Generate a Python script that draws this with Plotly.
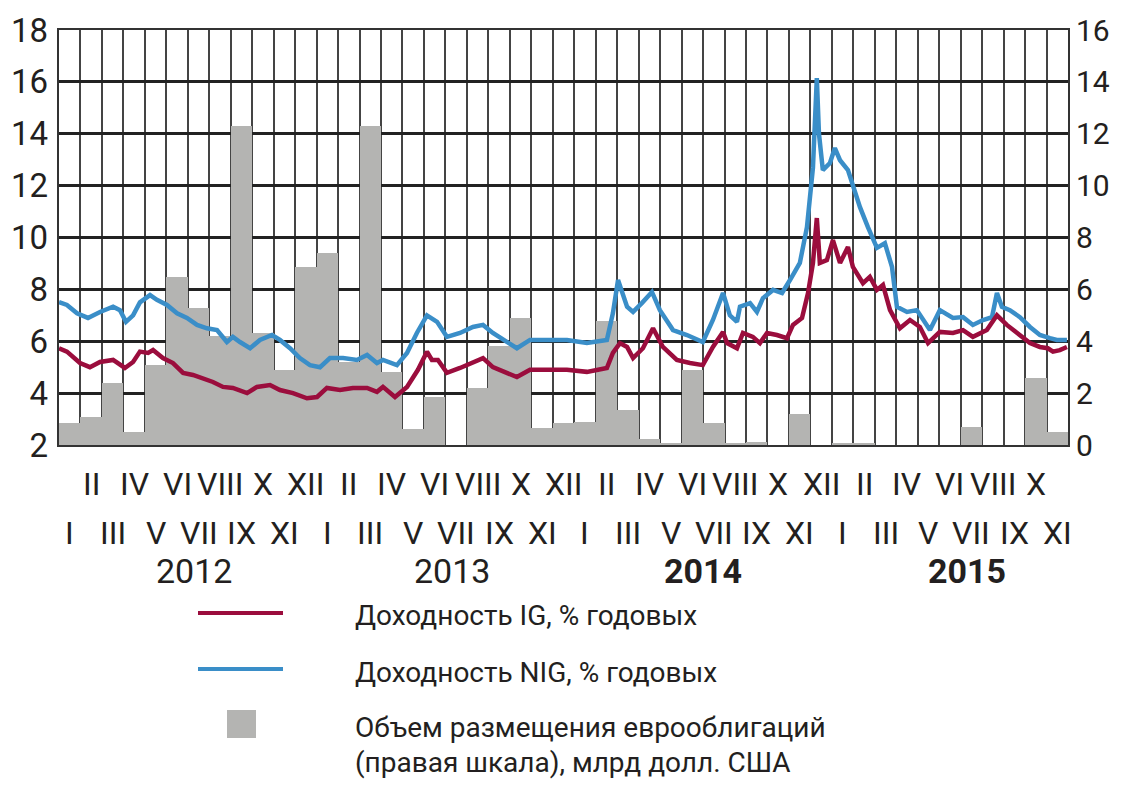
import plotly.graph_objects as go

# monthly euro-bond placements, Jan 2012 .. Nov 2015 (right scale, bn USD)
issuance = [0.85, 1.08, 2.4, 0.5, 3.1, 6.46, 5.27, 4.2, 12.3, 4.3, 2.9, 6.85,
            7.4, 3.2, 12.3, 2.8, 0.6, 1.85, 0.0, 2.2, 3.8, 4.9, 0.65, 0.85,
            0.9, 4.8, 1.35, 0.25, 0.05, 2.9, 0.85, 0.05, 0.1, 0.0, 1.2, 0.0,
            0.05, 0.05, 0.0, 0.0, 0.0, 0.0, 0.7, 0.0, 0.0, 2.6, 0.5]

roman = ["I", "II", "III", "IV", "V", "VI", "VII", "VIII", "IX", "X", "XI", "XII"]
years = ["2012", "2013", "2014", "2015"]
year_pos = [6.3, 18.3, 30.0, 42.3]
year_bold = [False, False, True, True]

# NIG yield, % (time in months since Jan 2012)
nig_t = [0.00, 0.37, 0.84, 1.35, 1.91, 2.52, 2.84, 3.12, 3.45, 3.77, 4.24, 4.56,
         5.03, 5.50, 5.96, 6.43, 6.89, 7.36, 7.82, 8.10, 8.43, 8.90, 9.36, 9.92,
         10.29, 10.76, 11.22, 11.69, 12.16, 12.62, 13.23, 13.88, 14.35, 14.81,
         15.09, 15.74, 16.21, 16.67, 17.14, 17.61, 18.07, 18.68, 19.28, 19.75,
         20.21, 20.87, 21.33, 21.94, 22.73, 23.66, 24.59, 25.52, 25.80, 26.04,
         26.46, 26.74, 27.15, 27.62, 27.99, 28.60, 29.25, 29.99, 30.46, 30.93,
         31.25, 31.58, 31.72, 32.19, 32.51, 32.79, 33.26, 33.68, 34.05, 34.51,
         34.84, 35.12, 35.30, 35.40, 35.58, 35.91, 36.14, 36.38, 36.75, 36.98,
         37.31, 37.68, 38.10, 38.47, 38.80, 39.03, 39.50, 39.96, 40.57, 41.03,
         41.64, 42.11, 42.57, 43.04, 43.46, 43.69, 43.92, 44.29, 44.76, 45.23,
         45.69, 46.16, 46.48, 46.95]
nig_v = [7.51, 7.40, 7.08, 6.90, 7.13, 7.33, 7.20, 6.75, 7.00, 7.50, 7.78, 7.60,
         7.40, 7.08, 6.90, 6.63, 6.50, 6.43, 5.97, 6.17, 5.97, 5.73, 6.05, 6.24,
         6.05, 5.73, 5.35, 5.08, 5.00, 5.35, 5.35, 5.28, 5.47, 5.16,
         5.28, 5.08, 5.55, 6.32, 7.00, 6.75, 6.17, 6.32, 6.55, 6.63,
         6.32, 5.97, 5.73, 6.05, 6.05, 6.05, 5.93, 6.05, 7.08, 8.36,
         7.33, 7.13, 7.47, 7.90, 7.20, 6.43, 6.24, 5.97, 6.82, 7.86,
         7.00, 6.75, 7.33, 7.47, 7.13, 7.66, 7.98, 7.86, 8.36, 9.02,
         10.40, 12.70, 16.15, 14.00, 12.60, 12.87, 13.45, 12.98, 12.60, 11.95,
         11.17, 10.40, 9.60, 9.78, 8.87, 7.33, 7.13, 7.20, 6.43, 7.20,
         6.90, 6.93, 6.63, 6.82, 6.93, 7.86, 7.33, 7.20, 6.93, 6.55,
         6.24, 6.12, 6.05, 6.05]

# IG yield, %
ig_t = [0.00, 0.37, 0.98, 1.44, 1.91, 2.52, 3.07, 3.45, 3.77, 4.15, 4.38, 4.84,
        5.31, 5.78, 6.24, 6.71, 7.17, 7.64, 8.10, 8.76, 9.22, 9.83, 10.29, 10.90,
        11.55, 12.02, 12.48, 13.09, 13.69, 14.35, 14.81, 15.09, 15.65, 16.21,
        16.72, 17.14, 17.37, 17.65, 18.07, 18.68, 19.28, 19.75, 20.21, 20.87,
        21.33, 21.94, 22.73, 23.66, 24.59, 25.52, 25.80, 26.13, 26.46, 26.74,
        27.20, 27.67, 28.13, 28.78, 29.39, 29.99, 30.46, 30.93, 31.12, 31.58,
        31.86, 32.32, 32.65, 32.98, 33.44, 33.91, 34.19, 34.61, 34.89, 35.12,
        35.30, 35.44, 35.77, 36.05, 36.38, 36.75, 36.98, 37.45, 37.77, 38.10,
        38.38, 38.71, 39.17, 39.64, 40.10, 40.48, 41.03, 41.64, 42.11, 42.57,
        43.22, 43.69, 44.15, 44.62, 45.23, 45.69, 46.06, 46.30, 46.62, 46.95]
ig_v = [5.73, 5.60, 5.16, 5.00, 5.20, 5.28, 4.97, 5.20, 5.60, 5.55, 5.66, 5.35,
        5.16, 4.78, 4.70, 4.58, 4.43, 4.24, 4.20, 4.00, 4.24, 4.31, 4.12, 4.00,
        3.80, 3.85, 4.20, 4.12, 4.20, 4.20, 4.05, 4.24, 3.85, 4.24,
        4.90, 5.60, 5.28, 5.28, 4.78, 4.97, 5.16, 5.35, 5.00, 4.78,
        4.62, 4.90, 4.90, 4.90, 4.82, 4.97, 5.55, 5.93, 5.78, 5.35,
        5.73, 6.50, 5.78, 5.28, 5.16, 5.08, 5.78, 6.36, 5.93, 5.73,
        6.32, 6.17, 5.93, 6.32, 6.24, 6.12, 6.63, 6.90, 7.86, 9.02,
        10.75, 9.02, 9.13, 9.90, 9.02, 9.63, 8.87, 8.24, 8.48, 7.98,
        8.17, 7.20, 6.50, 6.82, 6.55, 5.93, 6.36, 6.32, 6.43, 6.17,
        6.43, 7.00, 6.63, 6.32, 5.93, 5.78, 5.73, 5.60, 5.66, 5.78]

FONT = "Roboto, Liberation Sans, sans-serif"
TXT = "#231f20"
RED = "#9b0d3d"
BLUE = "#3a8ec8"
GREY = "#b4b4b2"

# the page body has an 8px margin, so the figure is a bit smaller than the window
OFF = 8
W, H = 1122 - 2 * OFF, 788 - 2 * OFF
# plot box in window pixels (used only to place legend/labels)
L, R, T, B = 59, 1068, 30, 445


def px(x):
    return (x - L) / (R - L)


def py(y):
    return (B - y) / (B - T)


n = len(issuance)
fig = go.Figure()
fig.add_trace(go.Bar(x=[k + 0.5 for k in range(n)], y=issuance, width=1,
                     marker=dict(color=GREY, line=dict(width=0)),
                     yaxis="y", showlegend=False))
fig.add_trace(go.Scatter(x=nig_t, y=nig_v, mode="lines",
                         line=dict(color=BLUE, width=4.5), yaxis="y2",
                         showlegend=False))
fig.add_trace(go.Scatter(x=ig_t, y=ig_v, mode="lines",
                         line=dict(color=RED, width=4.5), yaxis="y2",
                         showlegend=False))

ann = []
for k in range(n):
    upper = k % 2 == 1
    ann.append(dict(x=k + 0.5, xref="x", y=py(484 if upper else 533), yref="paper",
                    text=roman[k % 12], showarrow=False, xanchor="center",
                    yanchor="middle", font=dict(family=FONT, size=32, color=TXT)))
for yr, pos, bold in zip(years, year_pos, year_bold):
    ann.append(dict(x=pos, xref="x", y=py(571), yref="paper",
                    text="<b>%s</b>" % yr if bold else yr, showarrow=False,
                    xanchor="center", yanchor="middle",
                    font=dict(family=FONT, size=34, color=TXT)))

legend_text = [("Доходность IG, % годовых", 615),
               ("Доходность NIG, % годовых", 672),
               ("Объем размещения еврооблигаций", 727),
               ("(правая шкала), млрд долл. США", 762)]
for txt, yy in legend_text:
    ann.append(dict(x=px(353), xref="paper", y=py(yy), yref="paper", text=txt,
                    showarrow=False, xanchor="left", yanchor="middle",
                    font=dict(family=FONT, size=28, color=TXT)))

shapes = [
    dict(type="line", xref="paper", yref="paper", x0=px(198), x1=px(283),
         y0=py(613), y1=py(613), line=dict(color=RED, width=4)),
    dict(type="line", xref="paper", yref="paper", x0=px(198), x1=px(283),
         y0=py(669), y1=py(669), line=dict(color=BLUE, width=4)),
    dict(type="rect", xref="paper", yref="paper", x0=px(227), x1=px(256),
         y0=py(738), y1=py(710), fillcolor=GREY, line=dict(width=0)),
]

fig.update_layout(
    width=W, height=H,
    margin=dict(l=L - OFF, r=(W + OFF) - R, t=T - OFF, b=(H + OFF) - B),
    paper_bgcolor="white", plot_bgcolor="white",
    bargap=0,
    xaxis=dict(range=[0, n], tick0=0, dtick=1, showgrid=True,
               gridcolor="#444", gridwidth=2, showticklabels=False,
               ticks="", zeroline=False, showline=True, mirror=True,
               linecolor="#333", linewidth=2, automargin=False),
    yaxis=dict(range=[0, 16], dtick=2, side="right", showgrid=True,
               gridcolor="#222", gridwidth=2.5, zeroline=False,
               showline=True, mirror=True, linecolor="#333", linewidth=2,
               ticks="", ticklabelstandoff=0, automargin=False,
               tickfont=dict(family=FONT, size=30, color=TXT)),
    yaxis2=dict(range=[2, 18], dtick=2, side="left", overlaying="y",
                showgrid=False, zeroline=False, ticks="", ticklabelstandoff=10,
                automargin=False,
                tickfont=dict(family=FONT, size=33, color=TXT)),
    annotations=ann,
    shapes=shapes,
    showlegend=False,
)

fig.write_html("out.html")
